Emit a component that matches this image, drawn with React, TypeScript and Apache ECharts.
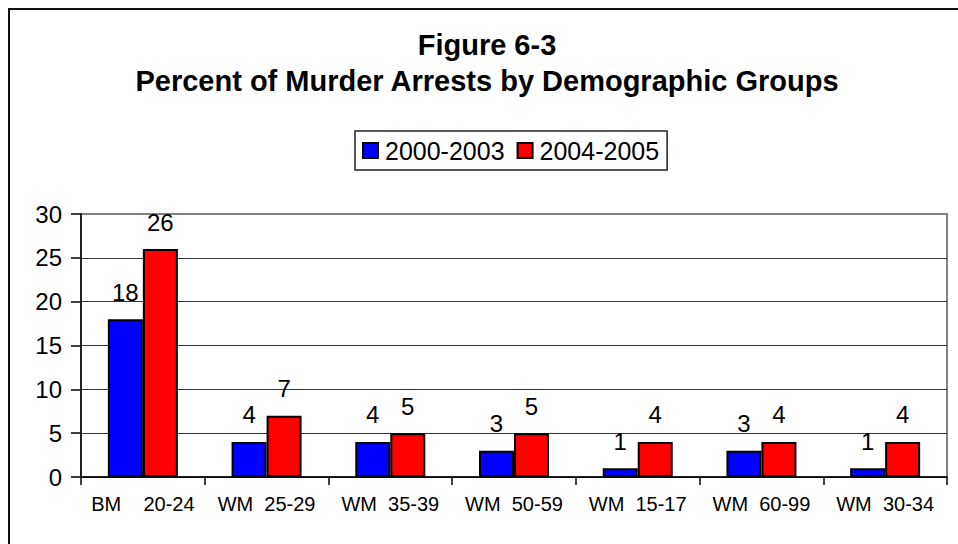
import React, { useEffect, useRef } from "react";
import * as echarts from "echarts";

const categories = ["BM    20-24", "WM  25-29", "WM  35-39", "WM  50-59", "WM  15-17", "WM  60-99", "WM  30-34"];
const series2000 = [18, 4, 4, 3, 1, 3, 1];
const series2004 = [26, 7, 5, 5, 4, 4, 4];
const seriesNames = ["2000-2003", "2004-2005"];
const yTicks = { min: 0, max: 30, interval: 5 };
const titleLines = ["Figure 6-3", "Percent of Murder Arrests by Demographic Groups"];

const FONT = "'Liberation Sans', Arial, sans-serif";

export default function App() {
  const ref = useRef<HTMLDivElement>(null);
  useEffect(() => {
    if (!ref.current) return;
    const chart = echarts.init(ref.current, null, { renderer: "svg" });
    const labelCfg = {
      show: true,
      position: "top" as const,
      distance: 15,
      color: "#000",
      fontSize: 24,
      fontFamily: FONT,
    };
    chart.setOption({
      animation: false,
      backgroundColor: "#fff",
      textStyle: { fontFamily: FONT },
      graphic: [
        {
          type: "rect",
          shape: { x: 9, y: 9, width: 1000, height: 1000 },
          style: { fill: "none", stroke: "#111", lineWidth: 2 },
          silent: true,
          z: -1,
        },
        {
          type: "text",
          x: 487,
          y: 45,
          style: {
            text: titleLines[0],
            fontSize: 29,
            fontWeight: "bold",
            fontFamily: FONT,
            fill: "#000",
            align: "center",
            verticalAlign: "middle",
          },
        },
        {
          type: "text",
          x: 487,
          y: 81,
          style: {
            text: titleLines[1],
            fontSize: 29,
            fontWeight: "bold",
            fontFamily: FONT,
            fill: "#000",
            align: "center",
            verticalAlign: "middle",
          },
        },
      ],
      legend: {
        data: seriesNames,
        left: 355,
        top: 131,
        orient: "horizontal",
        icon: "rect",
        itemWidth: 15,
        itemHeight: 15,
        itemGap: 12,
        padding: [7, 8, 7, 7],
        borderColor: "#222",
        borderWidth: 1.5,
        textStyle: { fontSize: 25, color: "#000", fontFamily: FONT, padding: [0, 0, 0, 2] },
      },
      grid: {
        left: 81,
        right: 11,
        top: 214,
        bottom: 67,
        show: true,
        borderColor: "#808080",
        borderWidth: 2,
        backgroundColor: "#fff",
      },
      xAxis: {
        type: "category",
        data: categories,
        axisLine: { lineStyle: { color: "#000", width: 1.5 } },
        axisTick: { show: true, alignWithLabel: false, length: 8, lineStyle: { color: "#000", width: 1.5 } },
        axisLabel: { color: "#000", fontSize: 20, fontFamily: FONT, margin: 17, interval: 0 },
        splitLine: { show: false },
      },
      yAxis: {
        type: "value",
        min: yTicks.min,
        max: yTicks.max,
        interval: yTicks.interval,
        axisLine: { show: true, lineStyle: { color: "#000", width: 1.5 } },
        axisTick: { show: true, length: 10, lineStyle: { color: "#000", width: 1.5 } },
        axisLabel: { color: "#000", fontSize: 24, fontFamily: FONT, margin: 19 },
        splitLine: {
          show: true,
          lineStyle: {
            color: ["#333", "#333", "#333", "#333", "#333", "#333", "#808080"],
            width: 1,
          },
        },
      },
      series: [
        {
          name: seriesNames[0],
          type: "bar",
          data: series2000,
          barWidth: 35,
          barGap: "0%",
          itemStyle: { color: "#0000FF", borderColor: "#000", borderWidth: 2 },
          label: labelCfg,
        },
        {
          name: seriesNames[1],
          type: "bar",
          data: series2004,
          barWidth: 35,
          barGap: "0%",
          itemStyle: { color: "#FF0000", borderColor: "#000", borderWidth: 2 },
          label: labelCfg,
        },
      ],
    });
    return () => chart.dispose();
  }, []);
  return (
    <div
      ref={ref}
      style={{ position: "fixed", left: 0, top: 0, width: 958, height: 544, background: "#fff" }}
    />
  );
}
